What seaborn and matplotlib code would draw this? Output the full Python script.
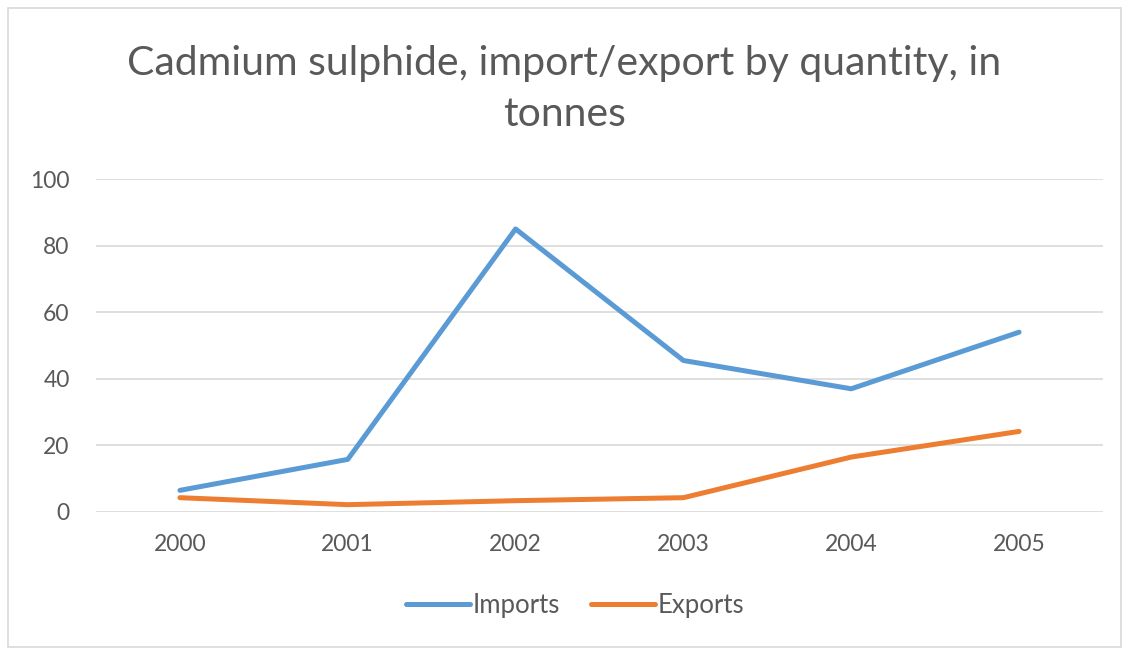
import matplotlib
matplotlib.use("Agg")
import matplotlib.pyplot as plt
import seaborn as sns
import pandas as pd
from matplotlib.patches import Rectangle

years = ["2000", "2001", "2002", "2003", "2004", "2005"]
imports = [6.5, 15.8, 85.0, 45.5, 37.0, 54.0]
exports = [4.3, 2.2, 3.4, 4.3, 16.5, 24.2]
series_names = ["Imports", "Exports"]
title = "Cadmium sulphide, import/export by quantity, in\ntonnes"
yticks = [0, 20, 40, 60, 80, 100]

sns.set_theme(style="white")
plt.rcParams['font.family'] = ['Lato', 'DejaVu Sans']

df = pd.DataFrame({
    "Year": years * 2,
    "Value": imports + exports,
    "Series": [series_names[0]] * len(years) + [series_names[1]] * len(years),
})

fig = plt.figure(figsize=(11.29, 6.51), dpi=100)
ax = fig.add_axes([96 / 1129, 1 - 512 / 651, (1103 - 96) / 1129, (512 - 179) / 651])

sns.lineplot(data=df, x="Year", y="Value", hue="Series",
             palette={"Imports": "#5B9BD5", "Exports": "#ED7D31"},
             linewidth=3.6, ax=ax, sort=False, legend=True,
             solid_capstyle="round", solid_joinstyle="round")

ax.set_xlim(-0.5, len(years) - 0.5)
ax.set_ylim(0, 100)
ax.set_yticks(yticks)
ax.set_yticklabels([str(t) for t in yticks])
ax.set_xlabel("")
ax.set_ylabel("")
ax.grid(axis="y", color="#D9D9D9", linewidth=1.2)
ax.set_axisbelow(True)
for s in ax.spines.values():
    s.set_visible(False)
ax.tick_params(axis="both", length=0, labelsize=16.5, labelcolor="#595959")
ax.tick_params(axis="y", pad=19)
ax.tick_params(axis="x", pad=16)

handles, labels = ax.get_legend_handles_labels()
for h in handles:
    h.set_linewidth(3.6)
    h.set_solid_capstyle("round")
ax.legend(handles, labels, loc="center", bbox_to_anchor=(575 / 1129, 1 - 605 / 651),
          bbox_transform=fig.transFigure, ncol=2, frameon=False,
          handlelength=2.5, handletextpad=0.1, columnspacing=1.2,
          fontsize=18.5, labelcolor="#595959")

fig.text(0.5, 1 - 89 / 651, title, ha="center", va="center",
         fontsize=29.5, color="#595959", linespacing=1.45)

fig.patches.append(Rectangle((8 / 1129, 4 / 651), (1121 - 8) / 1129, (643 - 4) / 651,
                             transform=fig.transFigure, fill=False,
                             edgecolor="#D9D9D9", linewidth=1.2))

fig.savefig("out.png", dpi=100, facecolor="white")
